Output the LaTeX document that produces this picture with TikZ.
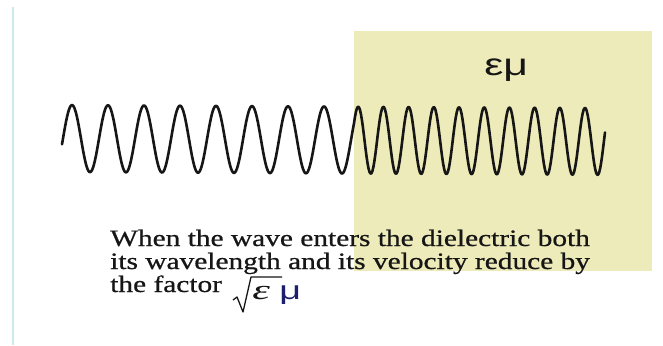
\documentclass[tikz,border=0pt]{standalone}
\usepackage{fontspec}
\setmainfont[FakeBold=0.6]{Liberation Serif}
\newfontfamily\sansgreek{Liberation Sans}
\newfontfamily\serifitgreek{Liberation Serif Italic}
\definecolor{boxfill}{RGB}{237,235,185}
\definecolor{edgeline}{RGB}{205,232,232}
\definecolor{ink}{RGB}{22,22,22}
\definecolor{navy}{RGB}{30,30,110}
\begin{document}
\begin{tikzpicture}[x=1pt,y=-1pt,
  txt/.style={anchor=base west, inner sep=0pt, xscale=1.25, font=\fontsize{23.5}{23}\selectfont, text=ink},
  wave/.style={line width=2.6pt, draw=ink, line join=round, line cap=round}]
\useasboundingbox (0,0) rectangle (663,345);
\fill[white] (0,0) rectangle (663,345);
\draw[edgeline, line width=2pt] (12.7,7) -- (12.7,345);
\fill[boxfill] (354,31) rectangle (652,271);
\node[anchor=base west, inner sep=0pt, xscale=1.38, font=\sansgreek\fontsize{31}{31}\selectfont, text=ink] (em) at (484,75) {εμ};
\draw[wave] plot[domain=62:354, samples=300] (\x, {138.5+0.0055*(\x-62) - 33.5*cos(10*(\x-72))})
  -- plot[domain=354:605, samples=260] (\x, {138.5+0.0055*(\x-62) - 33.5*cos(300+14.2857*(\x-354))});
\node[txt] (l1) at (110,246) {When the wave enters the dielectric both};
\node[txt] (l2) at (110,269) {its wavelength and its velocity reduce by};
\node[txt] (l3) at (110,292) {the factor};
\node[anchor=base west, inner sep=0pt, xscale=1.6, font=\serifitgreek\fontsize{28}{28}\selectfont, text=ink] (eps) at (252,299) {ε};
\node[anchor=base west, inner sep=0pt, xscale=1.45, font=\sansgreek\fontsize{26}{26}\selectfont, text=navy] (mu) at (279,299) {μ};
\draw[ink, line width=1.3pt, line join=round] (233,300) -- (237,297) -- (243,312) -- (251,277) -- (282,277);
\end{tikzpicture}
\end{document}
